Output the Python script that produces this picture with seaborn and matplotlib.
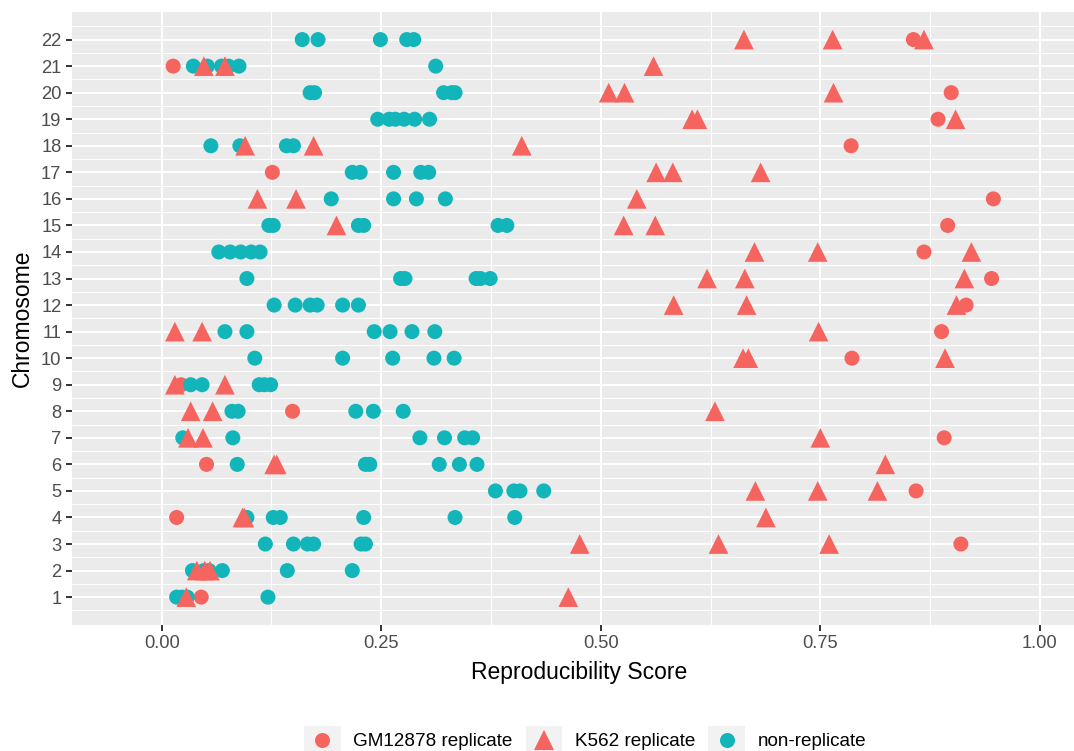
import numpy as np
import pandas as pd
import seaborn as sns
import matplotlib
matplotlib.use("Agg")
import matplotlib.pyplot as plt
from matplotlib.lines import Line2D
from matplotlib.patches import Rectangle
from matplotlib.legend_handler import HandlerBase

# ---------------- data ----------------
gm_chrom = [22, 21, 20, 19, 18, 17, 16, 15, 14, 13, 12, 11, 10, 9, 8, 7, 6, 5, 4, 3, 1]
gm_score = [0.856, 0.013, 0.899, 0.884, 0.785, 0.126, 0.947, 0.895, 0.868, 0.945, 0.916,
            0.888, 0.786, 0.022, 0.149, 0.891, 0.051, 0.859, 0.017, 0.910, 0.045]

k562_chrom = [22, 22, 22, 21, 21, 21, 20, 20, 20, 19, 19, 19, 18, 18, 18, 17, 17, 17,
              16, 16, 16, 15, 15, 15, 14, 14, 14, 13, 13, 13, 12, 12, 12, 11, 11, 11,
              10, 10, 10, 9, 9, 8, 8, 8, 7, 7, 7, 6, 6, 6, 5, 5, 5, 4, 4, 4, 3, 3, 3,
              2, 2, 2, 1, 1]
k562_score = [0.663, 0.764, 0.868, 0.048, 0.072, 0.560, 0.509, 0.527, 0.765, 0.604, 0.610, 0.904,
              0.095, 0.173, 0.410, 0.563, 0.582, 0.682, 0.109, 0.153, 0.541, 0.199, 0.526, 0.562,
              0.675, 0.747, 0.922, 0.621, 0.664, 0.914, 0.583, 0.666, 0.905, 0.015, 0.046, 0.748,
              0.662, 0.668, 0.892, 0.015, 0.072, 0.033, 0.058, 0.630, 0.030, 0.047, 0.750,
              0.128, 0.131, 0.824, 0.676, 0.747, 0.815, 0.092, 0.094, 0.688, 0.476, 0.634, 0.760,
              0.040, 0.049, 0.055, 0.028, 0.463]

non_chrom = [22] * 5 + [21] * 6 + [20] * 5 + [19] * 6 + [18] * 4 + [17] * 5 + [16] * 4 + \
            [15] * 6 + [14] * 5 + [13] * 6 + [12] * 6 + [11] * 6 + [10] * 5 + [9] * 5 + \
            [8] * 5 + [7] * 6 + [6] * 6 + [5] * 4 + [4] * 6 + [3] * 6 + [2] * 6 + [1] * 4
non_score = [0.160, 0.178, 0.249, 0.279, 0.287,
             0.036, 0.052, 0.068, 0.076, 0.088, 0.312,
             0.169, 0.174, 0.321, 0.330, 0.334,
             0.246, 0.259, 0.266, 0.276, 0.288, 0.305,
             0.056, 0.089, 0.142, 0.150,
             0.217, 0.226, 0.264, 0.295, 0.304,
             0.193, 0.264, 0.290, 0.323,
             0.122, 0.127, 0.224, 0.230, 0.383, 0.393,
             0.065, 0.078, 0.090, 0.102, 0.112,
             0.097, 0.272, 0.277, 0.358, 0.363, 0.374,
             0.128, 0.152, 0.169, 0.177, 0.206, 0.224,
             0.072, 0.097, 0.242, 0.260, 0.285, 0.311,
             0.106, 0.206, 0.263, 0.310, 0.333,
             0.033, 0.046, 0.111, 0.117, 0.124,
             0.080, 0.087, 0.221, 0.241, 0.275,
             0.024, 0.081, 0.294, 0.322, 0.345, 0.354,
             0.086, 0.232, 0.237, 0.316, 0.339, 0.359,
             0.380, 0.401, 0.408, 0.435,
             0.097, 0.127, 0.135, 0.230, 0.334, 0.402,
             0.118, 0.150, 0.166, 0.173, 0.227, 0.232,
             0.035, 0.048, 0.054, 0.069, 0.143, 0.217,
             0.017, 0.023, 0.029, 0.121]

categories = ["GM12878 replicate", "K562 replicate", "non-replicate"]
x_ticks = [0.0, 0.25, 0.5, 0.75, 1.0]
x_tick_labels = ["0.00", "0.25", "0.50", "0.75", "1.00"]
y_ticks = list(range(1, 23))

# ---------------- style ----------------
RED = "#F5645F"
CYAN = "#12B5BA"
palette = {categories[0]: RED, categories[1]: RED, categories[2]: CYAN}
markers = {categories[0]: "o", categories[1]: "^", categories[2]: "o"}
sizes = {categories[0]: 117, categories[1]: 200, categories[2]: 117}

# draw order: GM circles, then non-replicate, then K562 triangles on top
df = pd.concat([
    pd.DataFrame({"score": gm_score, "chrom": gm_chrom, "Type": categories[0]}),
    pd.DataFrame({"score": non_score, "chrom": non_chrom, "Type": categories[2]}),
    pd.DataFrame({"score": k562_score, "chrom": k562_chrom, "Type": categories[1]}),
], ignore_index=True)

sns.set_theme(style="darkgrid")
plt.rcParams["font.family"] = ["Liberation Sans", "DejaVu Sans"]

fig = plt.figure(figsize=(10.74, 7.51), dpi=100)
fig.patch.set_facecolor("white")
ax = fig.add_axes([71.7 / 1074, (751 - 625) / 751, (1086 - 71.7) / 1074, (625 - 11.7) / 751])
ax.set_facecolor("#EBEBEB")

sns.scatterplot(data=df, x="score", y="chrom", hue="Type", style="Type", size="Type",
                palette=palette, markers=markers, sizes=sizes,
                hue_order=categories, style_order=categories, size_order=categories,
                linewidth=0, legend=False, ax=ax, zorder=3)

ax.set_xticks(x_ticks)
ax.set_xticklabels(x_tick_labels)
ax.set_yticks(y_ticks)
ax.set_yticklabels([str(v) for v in y_ticks])
ax.set_xticks(np.arange(0.125, 1.0, 0.25), minor=True)
ax.set_yticks(np.arange(0.5, 23, 1.0), minor=True)
ax.set_xlim(-0.1025, 1.0525)
ax.set_ylim(-0.05, 23.05)

ax.grid(which="major", color="white", linewidth=1.5)
ax.grid(which="minor", color="white", linewidth=0.75)
ax.set_axisbelow(True)
for s in ax.spines.values():
    s.set_visible(False)

ax.tick_params(axis="both", which="major", length=4.1, width=1.4, color="#333333",
               labelsize=13.2, labelcolor="#4D4D4D", pad=3.3, bottom=True, left=True)
ax.tick_params(axis="both", which="minor", length=0, bottom=False, left=False)

ax.set_xlabel("Reproducibility Score", fontsize=16.5, color="black", labelpad=6)
ax.set_ylabel("Chromosome", fontsize=16.5, color="black", labelpad=5)


class KeyHandler(HandlerBase):
    def create_artists(self, legend, orig_handle, xdescent, ydescent, width, height,
                       fontsize, trans):
        rect = Rectangle((-xdescent, -ydescent), width, height, facecolor="#F2F2F2",
                         edgecolor="none", transform=trans)
        mk = Line2D([width / 2 - xdescent], [height / 2 - ydescent],
                    marker=orig_handle.get_marker(), markersize=orig_handle.get_markersize(),
                    color=orig_handle.get_color(), linestyle="none",
                    markeredgewidth=0, transform=trans)
        return [rect, mk]


handles = [Line2D([], [], marker=markers[c], color=palette[c], linestyle="none",
                  markersize=np.sqrt(sizes[c])) for c in categories]
leg = fig.legend(handles, categories, handler_map={Line2D: KeyHandler()},
                 loc="center", bbox_to_anchor=(585 / 1074, 1 - 740 / 751), ncol=3,
                 frameon=False, fontsize=13.6, handlelength=1.95, handleheight=1.95,
                 handletextpad=0.65, columnspacing=0.7, borderpad=0, borderaxespad=0)
for t in leg.get_texts():
    t.set_color("black")

fig.savefig("out.png", dpi=100)
